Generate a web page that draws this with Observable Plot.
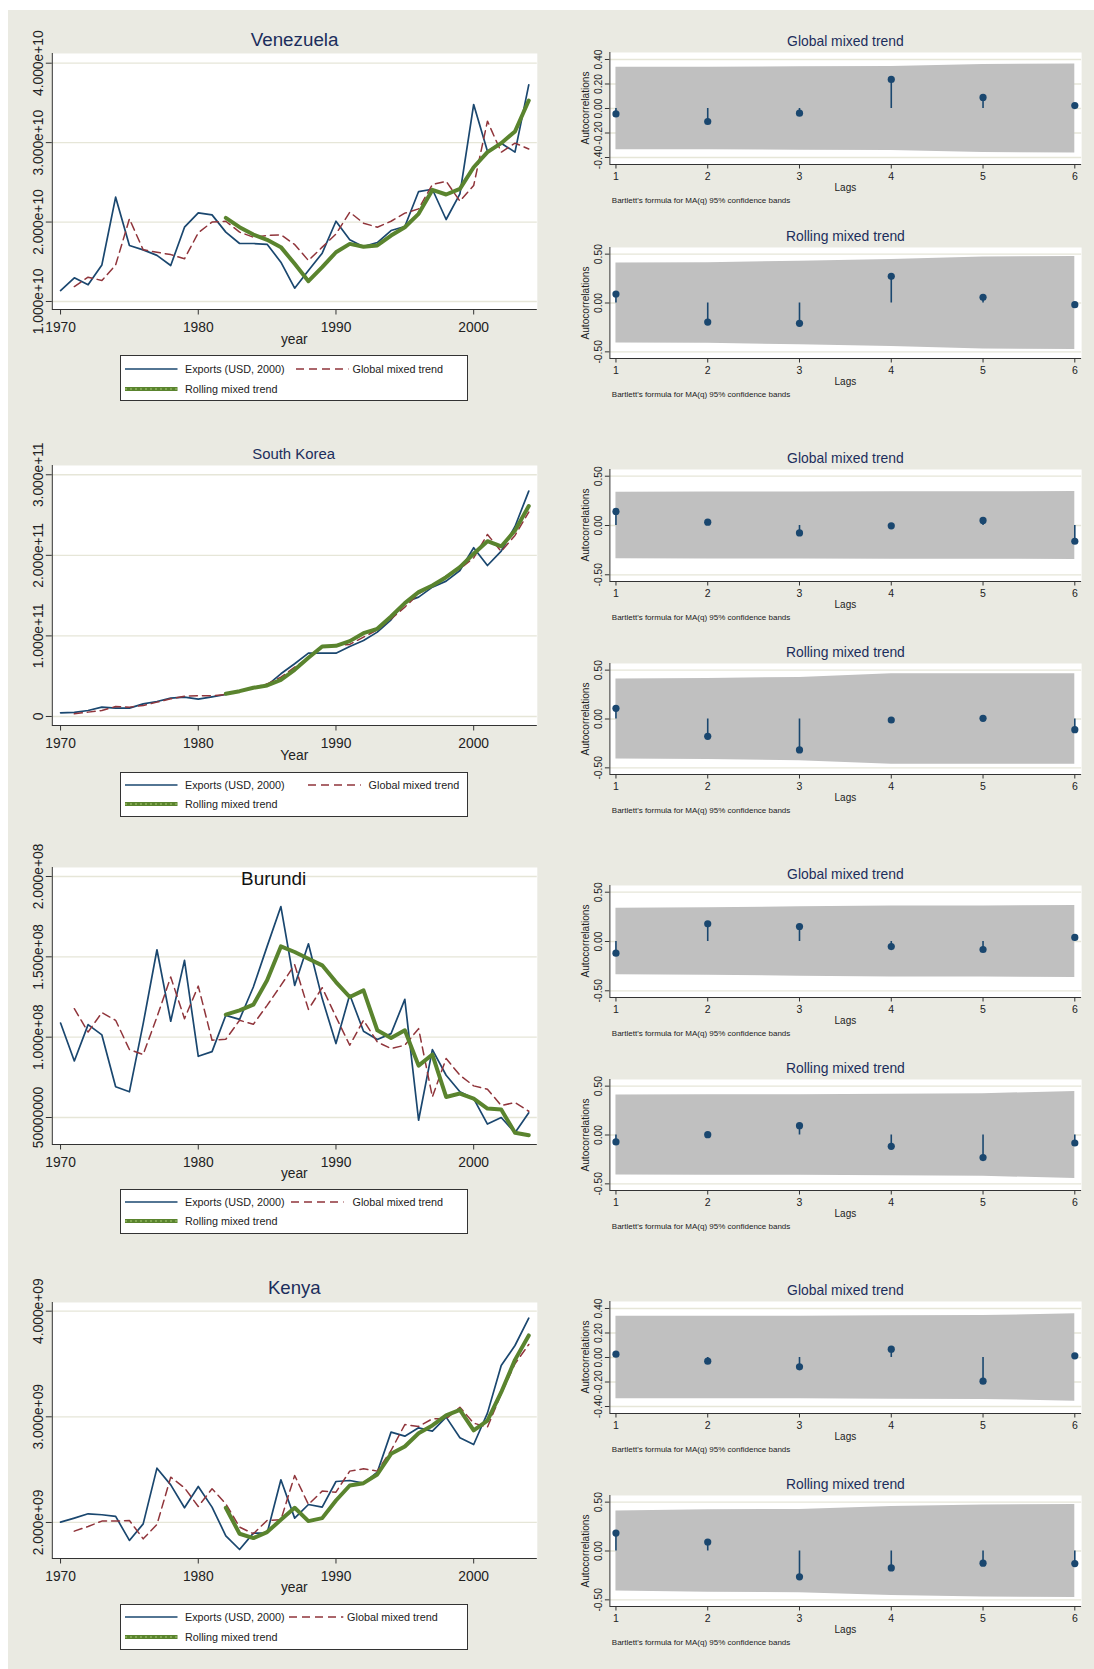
<!DOCTYPE html>
<html>
<head>
<meta charset="utf-8">
<script src="https://cdn.jsdelivr.net/npm/d3@7"></script>
<script src="https://cdn.jsdelivr.net/npm/@observablehq/plot@0.6"></script>
<style>
  html, body { margin: 0; padding: 0; background: #fff; }
  #page { position: relative; width: 1094px; height: 1669px; background: #fff; overflow: hidden;
          font-family: "Liberation Sans", Arial, Helvetica, sans-serif; }
  #bg { position: absolute; left: 8px; top: 10px; right: 0; bottom: 0; background: #eaeae2; }
</style>
</head>
<body>
<div id="page"><div id="bg"></div></div>
<script>
// ---------------- DATA ----------------
const years = [1970,1971,1972,1973,1974,1975,1976,1977,1978,1979,1980,1981,1982,1983,1984,1985,1986,1987,1988,1989,
               1990,1991,1992,1993,1994,1995,1996,1997,1998,1999,2000,2001,2002,2003,2004];
const globYears = years.slice(1);   // 1971-2004
const rollYears = years.slice(12);  // 1982-2004
const xTicks = [1970, 1980, 1990, 2000];
const lags = [1, 2, 3, 4, 5, 6];

// Venezuela (units of 1e10 USD)
const venExports = [1.138,1.298,1.21,1.46,2.313,1.705,1.65,1.58,1.453,1.935,2.115,2.09,1.873,1.73,1.73,1.72,1.495,1.167,1.39,1.608,
                    2.01,1.776,1.69,1.742,1.893,1.944,2.384,2.413,2.032,2.355,3.48,2.892,2.993,2.88,3.727];
const venGlobal  = [1.188,1.306,1.264,1.46,2.04,1.65,1.62,1.59,1.537,1.864,2.0,2.01,1.873,1.81,1.83,1.84,1.717,1.516,1.684,1.85,
                    2.124,1.986,1.935,2.01,2.112,2.166,2.473,2.514,2.263,2.46,3.27,2.88,2.993,2.92];
const venRolling = [2.053,1.935,1.843,1.776,1.684,1.474,1.256,1.432,1.62,1.725,1.69,1.705,1.83,1.935,2.103,2.405,2.347,2.418,2.69,2.88,
                    2.993,3.14,3.53];
const venTicks = [1e10, 2e10, 3e10, 4e10];

// South Korea (units of 1e11 USD)
const korExports = [0.045,0.05,0.074,0.116,0.103,0.103,0.157,0.186,0.228,0.24,0.215,0.244,0.273,0.314,0.352,0.385,0.53,0.654,0.786,0.786,
                    0.786,0.869,0.943,1.047,1.2,1.419,1.481,1.605,1.68,1.812,2.094,1.874,2.052,2.358,2.797];
const korGlobal  = [0.033,0.054,0.074,0.124,0.116,0.137,0.178,0.219,0.252,0.257,0.257,0.273,0.323,0.356,0.405,0.488,0.612,0.728,0.861,0.877,
                    0.894,0.985,1.076,1.212,1.357,1.523,1.626,1.742,1.833,1.969,2.259,2.048,2.247,2.536];
const korRolling = [0.281,0.314,0.356,0.385,0.455,0.579,0.728,0.869,0.877,0.935,1.034,1.088,1.241,1.407,1.543,1.626,1.729,1.854,2.019,2.176,
                    2.11,2.309,2.611];
const korTicks = [0, 1e11, 2e11, 3e11];

// Burundi (units of 1e8 USD)
const burExports = [1.088,0.852,1.078,1.014,0.691,0.66,1.084,1.544,1.099,1.478,0.881,0.91,1.136,1.111,1.312,1.565,1.813,1.322,1.581,1.24,
                    0.96,1.264,1.037,0.985,1.022,1.235,0.483,0.923,0.763,0.66,0.618,0.459,0.5,0.405,0.529];
const burGlobal  = [1.177,1.032,1.153,1.105,0.923,0.892,1.126,1.374,1.115,1.318,0.981,0.987,1.105,1.08,1.198,1.322,1.451,1.173,1.308,1.126,
                    0.95,1.105,0.97,0.929,0.95,1.053,0.628,0.867,0.763,0.697,0.676,0.575,0.593,0.539];
const burRolling = [1.14,1.167,1.202,1.354,1.565,1.53,1.488,1.447,1.343,1.25,1.291,1.043,0.995,1.043,0.823,0.892,0.628,0.649,0.618,0.556,
                    0.55,0.405,0.39];
const burTicks = [5e7, 1e8, 1.5e8, 2e8];

// Kenya (units of 1e9 USD)
const kenExports = [2.003,2.041,2.082,2.073,2.057,1.83,1.987,2.514,2.356,2.139,2.341,2.145,1.874,1.744,1.899,1.899,2.404,2.041,2.17,2.145,
                    2.388,2.397,2.372,2.476,2.855,2.817,2.896,2.864,2.997,2.801,2.738,3.035,3.486,3.675,3.934];
const kenGlobal  = [1.918,1.962,2.013,2.013,2.019,1.845,1.981,2.429,2.328,2.151,2.319,2.177,1.956,1.893,2.019,2.025,2.445,2.17,2.297,2.287,
                    2.486,2.508,2.486,2.681,2.927,2.909,2.981,2.981,3.091,2.94,2.902,3.218,3.502,3.685];
const kenRolling = [2.139,1.893,1.852,1.909,2.025,2.139,2.013,2.041,2.208,2.35,2.372,2.454,2.65,2.719,2.845,2.918,3.013,3.066,2.871,2.965,
                    3.233,3.539,3.77];
const kenTicks = [2e9, 3e9, 4e9];

// Autocorrelations (lags 1..6) and 95% band half-widths
const venAcfGlobal  = [-0.044,-0.106,-0.038,0.237,0.09,0.024];
const venBandGlobal = [0.336,0.337,0.341,0.342,0.36,0.363];
const venAcfRolling = [0.092,-0.195,-0.208,0.273,0.058,-0.017];
const venBandRolling= [0.41,0.412,0.427,0.444,0.471,0.476];
const korAcfGlobal  = [0.143,0.034,-0.075,-0.003,0.051,-0.16];
const korBandGlobal = [0.336,0.339,0.34,0.342,0.342,0.344];
const korAcfRolling = [0.109,-0.177,-0.316,-0.01,0.007,-0.109];
const korBandRolling= [0.409,0.414,0.426,0.464,0.464,0.464];
const burAcfGlobal  = [-0.118,0.179,0.152,-0.051,-0.081,0.041];
const burBandGlobal = [0.338,0.342,0.352,0.36,0.361,0.364];
const burAcfRolling = [-0.071,0.003,0.095,-0.116,-0.231,-0.082];
const burBandRolling= [0.409,0.411,0.411,0.416,0.422,0.446];
const kenAcfGlobal  = [0.027,-0.03,-0.076,0.068,-0.193,0.014];
const kenBandGlobal = [0.336,0.336,0.337,0.34,0.342,0.357];
const kenAcfRolling = [0.183,0.092,-0.264,-0.173,-0.125,-0.129];
const kenBandRolling= [0.409,0.423,0.426,0.455,0.47,0.476];
const acfTicks4 = [-0.4, -0.2, 0, 0.2, 0.4];
const acfTicks5 = [-0.5, 0, 0.5];

const legendLabels = ["Exports (USD, 2000)", "Global mixed trend", "Rolling mixed trend"];
const noteText = "Bartlett's formula for MA(q) 95% confidence bands";

// ---------------- STYLE ----------------
const FONT = '"Liberation Sans", Arial, Helvetica, sans-serif';
const C_EXP = "#1a476f", C_GLOB = "#90353b", C_ROLL = "#5a842e";
const C_GRID = "#e6e6d8", C_AXIS = "#333", C_TITLE = "#1c2e5c", C_TEXT = "#222";
const page = document.getElementById("page");

function place(node, left, top) {
  node.style.position = "absolute";
  node.style.left = left + "px";
  node.style.top = top + "px";
  page.appendChild(node);
}
function label(text, x, y, o = {}) {
  const d = document.createElement("div");
  d.textContent = text;
  const tx = o.anchor === "start" ? "0" : "-50%";
  d.style.cssText = `position:absolute;left:${x}px;top:${y}px;font-size:${o.size || 12}px;color:${o.color || C_TEXT};` +
    `line-height:1;white-space:nowrap;font-family:${FONT};transform:translate(${tx},-50%)${o.rotate ? " rotate(" + o.rotate + "deg)" : ""};`;
  page.appendChild(d);
}
function fmtExp(d) {
  if (d === 0) return "0";
  if (d < 1e8) return String(d);
  return d.toExponential(3).replace(/e\+(\d)$/, "e+0$1");
}

// ---------------- TIME SERIES PANEL ----------------
const xDomain = [1969.4, 2004.62];
const TS = {left: 0, W: 560, ml: 51.8, mr: 23.2, cx: 294.3};
function tsPanel(c) {
  const mt = 10, mb = 45;
  const H = c.bottom - c.top + mt + mb;
  const ex = years.map((y, i) => ({year: y, v: c.exp[i] * c.unit}));
  const gl = globYears.map((y, i) => ({year: y, v: c.glob[i] * c.unit}));
  const ro = rollYears.map((y, i) => ({year: y, v: c.roll[i] * c.unit}));
  const svg = Plot.plot({
    width: TS.W, height: H, marginTop: mt, marginBottom: mb, marginLeft: TS.ml, marginRight: TS.mr,
    style: {background: "transparent", fontFamily: FONT, color: C_TEXT, overflow: "visible"},
    x: {domain: xDomain},
    y: {domain: c.yDomain},
    marks: [
      Plot.frame({fill: "#fff", stroke: "none"}),
      Plot.gridY(c.yTicks, {stroke: C_GRID, strokeOpacity: 1, strokeWidth: 1.3}),
      Plot.line(ex, {x: "year", y: "v", stroke: C_EXP, strokeWidth: 1.7}),
      Plot.line(gl, {x: "year", y: "v", stroke: C_GLOB, strokeWidth: 1.5, strokeDasharray: "8,5"}),
      Plot.line(ro, {x: "year", y: "v", stroke: C_ROLL, strokeWidth: 4, strokeLinejoin: "round", strokeLinecap: "round"}),
      Plot.ruleY([c.yDomain[0]], {stroke: C_AXIS, strokeWidth: 1}),
      Plot.ruleX([xDomain[0]], {stroke: C_AXIS, strokeWidth: 1}),
      Plot.axisX(xTicks, {tickSize: 5.5, tickPadding: 7, fontSize: 13.8, tickFormat: d => String(d), label: null, stroke: C_AXIS}),
      Plot.axisY(c.yTicks, {tickSize: 6, tickPadding: 3, tickRotate: -90, fontSize: 13.8, tickFormat: fmtExp, label: null, stroke: C_AXIS})
    ]
  });
  place(svg, TS.left, c.top - mt);

  const t = c.title;
  label(t.text, t.x, t.y, {size: t.size, color: t.color});
  label(c.xlabel, TS.cx, c.xlabelY, {size: 13.8});

  // legend
  const L = c.legend;
  const box = document.createElement("div");
  box.style.cssText = `position:absolute;left:${L.box[0]}px;top:${L.box[1]}px;width:${L.box[2] - L.box[0]}px;height:${L.box[3] - L.box[1]}px;` +
    `background:#fff;border:1px solid #333;box-sizing:border-box;`;
  page.appendChild(box);
  const sw = (x1, x2, y, kind) => {
    const s = d3.create("svg").attr("width", x2 - x1 + 4).attr("height", 10).style("overflow", "visible");
    const ln = s.append("line").attr("x1", 2).attr("x2", x2 - x1 + 2).attr("y1", 5).attr("y2", 5);
    if (kind === "exp") ln.attr("stroke", C_EXP).attr("stroke-width", 1.7);
    if (kind === "glob") ln.attr("stroke", C_GLOB).attr("stroke-width", 1.5).attr("stroke-dasharray", "8,5");
    if (kind === "roll") {
      ln.attr("stroke", C_ROLL).attr("stroke-width", 4);
      s.append("line").attr("x1", 2).attr("x2", x2 - x1 + 2).attr("y1", 5).attr("y2", 5)
        .attr("stroke", "#8fb35e").attr("stroke-width", 1.4).attr("stroke-dasharray", "2,3");
    }
    place(s.node(), x1 - 2, y - 5);
  };
  sw(125, 177.5, L.rows[0], "exp");
  label(legendLabels[0], 185, L.rows[0], {size: 10.8, anchor: "start"});
  sw(L.dash[0], L.dash[1], L.rows[0], "glob");
  label(legendLabels[1], L.dashText, L.rows[0], {size: 10.8, anchor: "start"});
  sw(125, 177.5, L.rows[1], "roll");
  label(legendLabels[2], 185, L.rows[1], {size: 10.8, anchor: "start"});
}

// ---------------- ACF PANEL ----------------
const lagDomain = [0.934, 6.074];
const AC = {left: 560, W: 530, ml: 49.4, mr: 8.9, cx: 845.4};
function acfPanel(c) {
  const mt = 10, mb = 30;
  const H = c.bottom - c.top + mt + mb;
  const d = lags.map((k, i) => ({lag: k, r: c.vals[i], b: c.band[i]}));
  const svg = Plot.plot({
    width: AC.W, height: H, marginTop: mt, marginBottom: mb, marginLeft: AC.ml, marginRight: AC.mr,
    style: {background: "transparent", fontFamily: FONT, color: C_TEXT, overflow: "visible"},
    x: {domain: lagDomain},
    y: {domain: c.yDomain},
    marks: [
      Plot.frame({fill: "#fff", stroke: "none"}),
      Plot.gridY(c.yTicks, {stroke: C_GRID, strokeOpacity: 1, strokeWidth: 1.3}),
      Plot.areaY(d, {x: "lag", y1: e => -e.b, y2: "b", fill: "#c0c0c0", fillOpacity: 1}),
      Plot.ruleX(d, {x: "lag", y1: e => 0, y2: "r", stroke: C_EXP, strokeWidth: 1.6}),
      Plot.dot(d, {x: "lag", y: "r", r: 3.6, fill: C_EXP, stroke: "none"}),
      Plot.ruleY([c.yDomain[0]], {stroke: C_AXIS, strokeWidth: 1}),
      Plot.ruleX([lagDomain[0]], {stroke: C_AXIS, strokeWidth: 1}),
      Plot.axisX(lags, {tickSize: 4.5, tickPadding: 3.5, fontSize: 10.5, tickFormat: v => String(v), label: null, stroke: C_AXIS}),
      Plot.axisY(c.yTicks, {tickSize: 4.5, tickPadding: 3, tickRotate: -90, fontSize: 10.3, tickFormat: v => v.toFixed(2), label: null, stroke: C_AXIS})
    ]
  });
  place(svg, AC.left, c.top - mt);
  label(c.title, AC.cx, c.top - 10, {size: 13.9, color: C_TITLE});
  label("Autocorrelations", 586.2, (c.top + c.bottom) / 2, {size: 10.1, rotate: -90});
  label("Lags", AC.cx, c.bottom + 24, {size: 10});
  label(noteText, 611.8, c.bottom + 37, {size: 8, anchor: "start"});
}

// ---------------- BUILD ----------------
tsPanel({top: 53, bottom: 309, unit: 1e10, exp: venExports, glob: venGlobal, roll: venRolling,
  yTicks: venTicks, yDomain: [0.899e10, 4.122e10],
  title: {text: "Venezuela", x: 294.6, y: 40, size: 18.8, color: C_TITLE}, xlabel: "year", xlabelY: 340,
  legend: {box: [120.4, 355, 468, 401], rows: [369, 389], dash: [295.7, 348.2], dashText: 352.5}});
tsPanel({top: 465, bottom: 725, unit: 1e11, exp: korExports, glob: korGlobal, roll: korRolling,
  yTicks: korTicks, yDomain: [-0.112e11, 3.115e11],
  title: {text: "South Korea", x: 293.6, y: 454, size: 14.9, color: C_TITLE}, xlabel: "Year", xlabelY: 756,
  legend: {box: [120.4, 772, 468, 817], rows: [785, 804], dash: [307.9, 360.7], dashText: 368.6}});
tsPanel({top: 867, bottom: 1144, unit: 1e8, exp: burExports, glob: burGlobal, roll: burRolling,
  yTicks: burTicks, yDomain: [0.332e8, 2.056e8],
  title: {text: "Burundi", x: 273.6, y: 879, size: 18.9, color: "#111"}, xlabel: "year", xlabelY: 1174,
  legend: {box: [120.4, 1189, 468, 1234], rows: [1202, 1221], dash: [291, 343.6], dashText: 352.5}});
tsPanel({top: 1302, bottom: 1558, unit: 1e9, exp: kenExports, glob: kenGlobal, roll: kenRolling,
  yTicks: kenTicks, yDomain: [1.659e9, 4.082e9],
  title: {text: "Kenya", x: 294.3, y: 1288, size: 18.6, color: C_TITLE}, xlabel: "year", xlabelY: 1588,
  legend: {box: [120.4, 1604, 468, 1650], rows: [1617, 1637], dash: [288.6, 342.9], dashText: 347.1}});

const D4 = [-0.457, 0.457], D5 = [-0.568, 0.568];
acfPanel({top: 52, bottom: 164, title: "Global mixed trend", vals: venAcfGlobal, band: venBandGlobal, yTicks: acfTicks4, yDomain: D4});
acfPanel({top: 247, bottom: 358, title: "Rolling mixed trend", vals: venAcfRolling, band: venBandRolling, yTicks: acfTicks5, yDomain: D5});
acfPanel({top: 469, bottom: 581, title: "Global mixed trend", vals: korAcfGlobal, band: korBandGlobal, yTicks: acfTicks5, yDomain: D5});
acfPanel({top: 663, bottom: 774, title: "Rolling mixed trend", vals: korAcfRolling, band: korBandRolling, yTicks: acfTicks5, yDomain: D5});
acfPanel({top: 885, bottom: 997, title: "Global mixed trend", vals: burAcfGlobal, band: burBandGlobal, yTicks: acfTicks5, yDomain: D5});
acfPanel({top: 1079, bottom: 1190, title: "Rolling mixed trend", vals: burAcfRolling, band: burBandRolling, yTicks: acfTicks5, yDomain: D5});
acfPanel({top: 1301, bottom: 1413, title: "Global mixed trend", vals: kenAcfGlobal, band: kenBandGlobal, yTicks: acfTicks4, yDomain: D4});
acfPanel({top: 1495, bottom: 1606, title: "Rolling mixed trend", vals: kenAcfRolling, band: kenBandRolling, yTicks: acfTicks5, yDomain: D5});
</script>
</body>
</html>
